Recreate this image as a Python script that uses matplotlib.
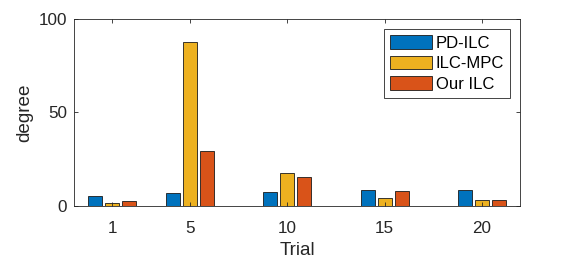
import matplotlib.pyplot as plt
import numpy as np

plt.rcParams['font.family'] = ['Liberation Sans', 'DejaVu Sans']

# Data
trials = [1, 5, 10, 15, 20]
pd_ilc = [5.5, 6.8, 7.7, 8.6, 8.6]
ilc_mpc = [1.5, 87.5, 17.6, 4.4, 3.0]
our_ilc = [2.5, 29.4, 15.7, 8.0, 3.4]

series = [("PD-ILC", pd_ilc, "#0072BD"),
          ("ILC-MPC", ilc_mpc, "#EDB120"),
          ("Our ILC", our_ilc, "#D95319")]

fig = plt.figure(figsize=(5.74, 2.61), dpi=100)
ax = fig.add_axes([0.129, 0.211, 0.777, 0.716])

x = np.array(trials, dtype=float)
offsets = [-0.88, 0.0, 0.88]
for (name, vals, col), off in zip(series, offsets):
    ax.bar(x + off, vals, width=0.72, color=col, edgecolor="#1a1a1a",
           linewidth=0.6, label=name)

ax.set_xlim(-0.95, 21.95)
ax.set_ylim(0, 100)
ax.set_xticks(trials)
ax.set_yticks([0, 50, 100])
ax.tick_params(direction="in", top=True, right=True, labelsize=12.3,
               colors="#262626", length=3, width=0.6)
ax.tick_params(axis="x", pad=10.5)
ax.tick_params(axis="y", pad=5)
for s in ax.spines.values():
    s.set_color("#262626")
    s.set_linewidth(0.6)
ax.set_xlabel("Trial", fontsize=13.6, color="#262626", labelpad=4.5)
ax.set_ylabel("degree", fontsize=13.6, color="#262626", labelpad=4)

leg = ax.legend(loc="upper right", fontsize=12, handlelength=2.5,
                handleheight=0.9, handletextpad=0.25, borderpad=0.35,
                labelspacing=0.3, fancybox=False, framealpha=1,
                borderaxespad=0.6)
leg.get_frame().set_edgecolor("#262626")
leg.get_frame().set_linewidth(0.6)

fig.savefig("out.png", dpi=100)
